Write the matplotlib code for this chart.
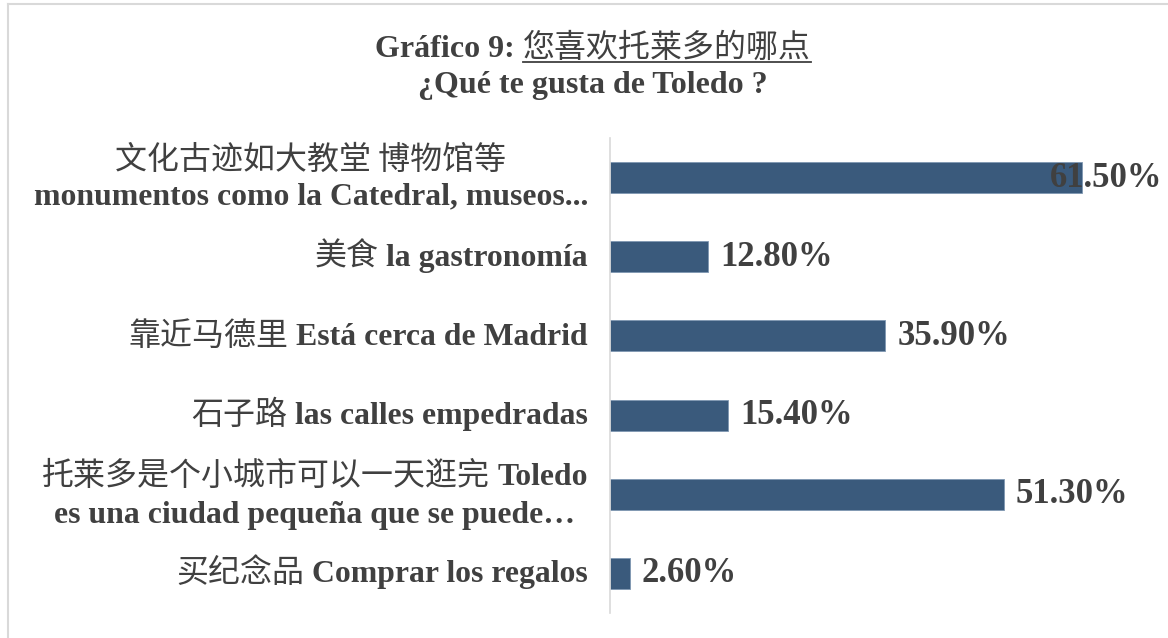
import matplotlib.pyplot as plt
from matplotlib.lines import Line2D

# data
cats_cn = ["文化古迹如大教堂 博物馆等", "美食", "靠近马德里", "石子路",
           "托莱多是个小城市可以一天逛完", "买纪念品"]
cats_es = ["monumentos como la Catedral, museos...", "la gastronomía",
           "Está cerca de Madrid", "las calles empedradas",
           "Toledo", "Comprar los regalos"]
cats_es2 = ["", "", "", "", "es una ciudad pequeña que se puede…", ""]
values = [61.5, 12.8, 35.9, 15.4, 51.3, 2.6]
value_labels = ["61.50%", "12.80%", "35.90%", "15.40%", "51.30%", "2.60%"]

TXT = "#404040"
BAR = "#3a5a7c"
LAT = dict(family="Liberation Serif", weight="bold", color=TXT)
CJK = dict(family=["Noto Sans CJK SC", "DejaVu Sans"], weight="normal", color=TXT)

W, H = 1168, 638
fig = plt.figure(figsize=(W / 100, H / 100), dpi=100)

# frame lines (top and left only)
fig.add_artist(Line2D([8 / W, 1], [1 - 4 / H, 1 - 4 / H], color="#d9d9d9", lw=1.5))
fig.add_artist(Line2D([8 / W, 8 / W], [0, 1 - 4 / H], color="#d9d9d9", lw=1.5))

ax = fig.add_axes([610 / W, 1 - 613 / H, (1147 - 610) / W, (613 - 138) / H])
ypos = list(range(len(values)))
ax.barh(ypos, values, height=0.39, color=BAR, edgecolor="#7f97b2", linewidth=0.6)
ax.set_xlim(0, 70)
ax.set_ylim(len(values) - 0.5, -0.5)
ax.set_xticks([])
ax.set_yticks([])
for s in ["top", "right", "bottom"]:
    ax.spines[s].set_visible(False)
ax.spines["left"].set_color("#d9d9d9")
ax.spines["left"].set_linewidth(1.2)

fig.canvas.draw()
renderer = fig.canvas.get_renderer()


def text_width(s, size, props):
    t = fig.text(0, 0, s, fontsize=size, **props)
    w = t.get_window_extent(renderer).width
    t.remove()
    return w


LSIZE = 22.9
CSIZE = 23
GAP = 8
trans = ax.get_yaxis_transform()
xright = -22  # pixels left of axis


def draw_block(y, lines):
    # lines: list of (list of (text, size, props), dy)
    widths = []
    for parts, dy in lines:
        ws = [text_width(t, sz, p) for t, sz, p in parts]
        widths.append(ws)
    tot = [sum(ws) + GAP * (len(ws) - 1) for ws in widths]
    center = xright - max(tot) / 2
    for (parts, dy), ws, tw in zip(lines, widths, tot):
        x = center - tw / 2
        for (t, sz, p), w in zip(parts, ws):
            ax.annotate(t, xy=(0, y), xycoords=trans, xytext=(x, dy),
                        textcoords="offset pixels", ha="left", va="baseline",
                        fontsize=sz, annotation_clip=False, **p)
            x += w + GAP


for i in ypos:
    if i == 0:
        draw_block(i, [([(cats_cn[i], CSIZE, CJK)], 9),
                       ([(cats_es[i], LSIZE, LAT)], -27)])
    elif cats_es2[i]:
        draw_block(i, [([(cats_cn[i], CSIZE, CJK), (cats_es[i], LSIZE, LAT)], 9),
                       ([(cats_es2[i], LSIZE, LAT)], -29)])
    else:
        draw_block(i, [([(cats_cn[i], CSIZE, CJK), (cats_es[i], LSIZE, LAT)], -9)])

# value labels
VSIZE = 25
xmax = ax.get_xlim()[1]
for i, (v, lab) in enumerate(zip(values, value_labels)):
    if v > 0.85 * xmax:
        ax.annotate(lab, xy=(1, i), xycoords=trans, xytext=(15, -9),
                    textcoords="offset pixels", ha="right", va="baseline",
                    fontsize=VSIZE, annotation_clip=False, **LAT)
    else:
        ax.annotate(lab, xy=(v, i), xytext=(12, -9), textcoords="offset pixels",
                    ha="left", va="baseline", fontsize=VSIZE,
                    annotation_clip=False, **LAT)

# title
t1a = "Gráfico 9: "
t1b = "您喜欢托莱多的哪点"
TSIZE = 23
wa = text_width(t1a, TSIZE, LAT)
wb = text_width(t1b, TSIZE, CJK)
cx = 593
x0 = cx - (wa + wb) / 2
fig.text(x0 / W, 1 - 57 / H, t1a, fontsize=TSIZE, ha="left", va="baseline", **LAT)
fig.text((x0 + wa) / W, 1 - 57 / H, t1b, fontsize=TSIZE, ha="left", va="baseline", **CJK)
fig.add_artist(Line2D([(x0 + wa) / W, (x0 + wa + wb) / W], [1 - 62 / H, 1 - 62 / H],
                      color=TXT, lw=1.3))
fig.text(cx / W, 1 - 93 / H, "¿Qué te gusta de Toledo ?", fontsize=TSIZE,
         ha="center", va="baseline", **LAT)

fig.savefig("out.png", dpi=100)
